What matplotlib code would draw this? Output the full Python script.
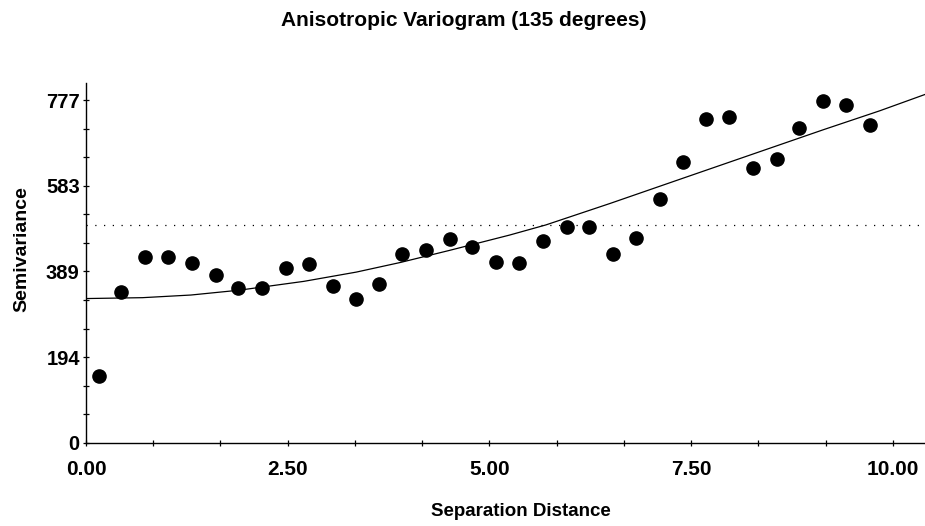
import matplotlib
matplotlib.use("Agg")
import matplotlib.pyplot as plt
from matplotlib.ticker import FixedLocator, MultipleLocator

# ---- data ----
lag_distance = [0.16, 0.44, 0.73, 1.02, 1.32, 1.61, 1.89, 2.18, 2.48, 2.77,
                3.06, 3.35, 3.63, 3.92, 4.22, 4.51, 4.79, 5.08, 5.37, 5.67,
                5.96, 6.23, 6.53, 6.82, 7.11, 7.40, 7.68, 7.97, 8.27, 8.56,
                8.84, 9.13, 9.42, 9.72]
semivariance = [152, 343, 421, 421, 408, 380, 352, 352, 397, 406,
                356, 326, 360, 429, 438, 461, 444, 411, 408, 457,
                489, 489, 428, 464, 553, 637, 735, 738, 623, 644,
                715, 775, 766, 721]

model_x = [0.0, 0.7, 1.3, 1.9, 2.7, 3.35, 3.9, 4.5, 5.25, 5.7, 6.5, 7.4,
           8.27, 9.14, 9.84, 10.4]
model_y = [327, 329, 335, 346, 366, 387, 409, 436, 471, 494, 543, 600,
           655, 710, 753, 790]

sill = 493

y_tick_values = [0, 194.25, 388.5, 582.75, 777]
y_tick_labels = ["0", "194", "389", "583", "777"]
x_tick_values = [0, 2.5, 5.0, 7.5, 10.0]
x_tick_labels = ["0.00", "2.50", "5.00", "7.50", "10.00"]

title = "Anisotropic Variogram (135 degrees)"
x_label = "Separation Distance"
y_label = "Semivariance"

# ---- figure ----
W, H = 925, 526
fig = plt.figure(figsize=(W / 100, H / 100), dpi=100)
ax = fig.add_axes([86 / W, 1 - 442.7 / H, (925 - 86) / W, (442.7 - 83) / H])

fam = ["Liberation Sans", "DejaVu Sans"]

ax.plot(model_x, model_y, color="black", lw=0.9, zorder=2)
ax.axhline(sill, color="black", lw=0.9, linestyle=(0, (1, 6)), zorder=1)
ax.plot(lag_distance, semivariance, "o", color="black", ms=9.5, zorder=3)

ax.set_xlim(0, 10.4)
ax.set_ylim(0, 816)

for s in ["top", "right"]:
    ax.spines[s].set_visible(False)
for s in ["left", "bottom"]:
    ax.spines[s].set_linewidth(1.0)

ax.xaxis.set_major_locator(FixedLocator(x_tick_values))
ax.set_xticklabels(x_tick_labels)
ax.xaxis.set_minor_locator(MultipleLocator(10 / 12))
ax.yaxis.set_major_locator(FixedLocator(y_tick_values))
ax.set_yticklabels(y_tick_labels)
ax.yaxis.set_minor_locator(MultipleLocator(777 / 12))

ax.tick_params(which="both", direction="inout", length=5, width=0.9, color="black")
ax.tick_params(axis="x", which="major", pad=10)
ax.tick_params(axis="y", which="major", pad=2)

for lab in ax.get_xticklabels():
    lab.set_fontfamily(fam)
    lab.set_fontweight("bold")
    lab.set_fontsize(15)
for lab in ax.get_yticklabels():
    lab.set_fontfamily(fam)
    lab.set_fontweight("bold")
    lab.set_fontsize(14.5)

fig.text(464 / W, 1 - 20 / H, title, ha="center", va="center",
         fontsize=15, fontweight="bold", family=fam)
fig.text(521 / W, 1 - 512 / H, x_label, ha="center", va="center",
         fontsize=13.5, fontweight="bold", family=fam)
fig.text(22 / W, 1 - 249 / H, y_label, ha="center", va="center",
         rotation=90, fontsize=14, fontweight="bold", family=fam)

fig.savefig("out.png", dpi=100)
